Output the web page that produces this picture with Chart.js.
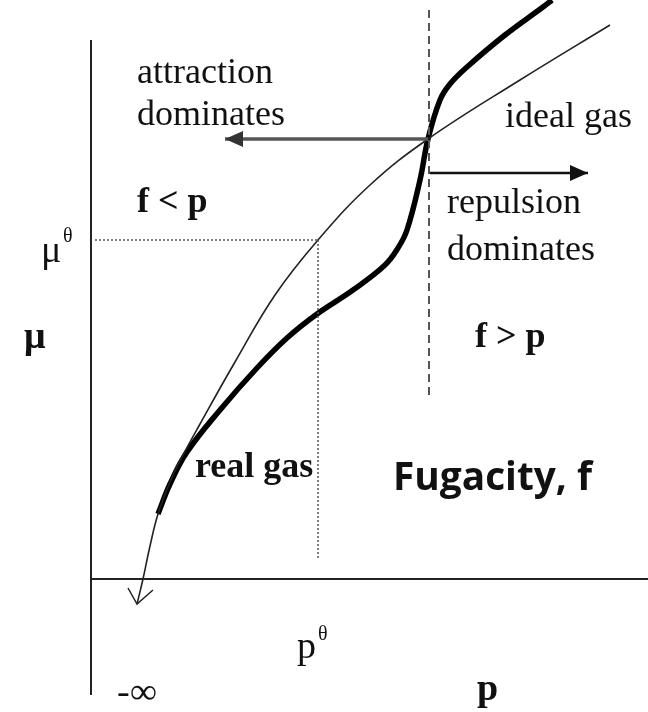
<!DOCTYPE html>
<html>
<head>
<meta charset="utf-8">
<script src="https://cdn.jsdelivr.net/npm/chart.js@4"></script>
<style>
html, body { margin: 0; padding: 0; background: #fff; }
#wrap { width: 648px; height: 712px; position: relative; }
</style>
</head>
<body>
<div id="wrap"><canvas id="fugacityChart"></canvas></div>
<script>
// Curves: x = pressure p, y = chemical potential mu (arbitrary units)
const idealP  = [0.46, 0.52, 0.59, 0.67, 0.79, 0.91, 1.09, 1.44, 1.84, 2.27, 2.79, 3.37, 4.29, 5.19];
const idealMu = [-0.25, 0.00, 0.33, 0.65, 0.97, 1.22, 1.55, 2.17, 2.84, 3.39, 3.94, 4.40, 4.99, 5.54];
const realP   = [0.67, 0.79, 0.96, 1.29, 1.66, 1.96, 2.26, 2.62, 2.94, 3.07, 3.16, 3.29, 3.37, 3.49, 3.59, 3.76, 4.14, 4.52, 4.61];
const realMu  = [0.65, 0.95, 1.27, 1.69, 2.11, 2.41, 2.65, 2.89, 3.14, 3.31, 3.49, 3.99, 4.40, 4.79, 4.95, 5.12, 5.44, 5.72, 5.79];

// reference values
const pStd = 2.27;      // p theta
const muStd = 3.39;     // mu theta
const pCross = 3.37;    // where real and ideal cross
const muCross = 4.40;

// axes and guide lines
const muAxis = [{x: 0, y: 5.39}, {x: 0, y: -1.16}];
const pAxis = [{x: 0, y: 0}, {x: 5.57, y: 0}];
const crossLine = [{x: 3.38, y: 5.69}, {x: 3.38, y: 1.84}];
const muStdLine = [{x: 0.04, y: muStd}, {x: pStd, y: muStd}];
const pStdLine = [{x: pStd, y: muStd}, {x: pStd, y: 0.19}];
const leftArrow = [{x: pCross, y: muCross}, {x: 1.34, y: muCross}];
const rightArrow = [{x: 3.39, y: 4.06}, {x: 4.97, y: 4.06}];
const infArrowHead = [{x: 0.37, y: -0.09}, {x: 0.46, y: -0.25}, {x: 0.62, y: -0.11}];

const toPts = (xs, ys) => xs.map((x, i) => ({x: x, y: ys[i]}));

const serif = '"Liberation Serif", "DejaVu Serif", serif';
const notes = [
    {t: 'attraction', x: 0.46, y: 4.96, font: '36px ' + serif},
    {t: 'dominates', x: 0.46, y: 4.54, font: '36px ' + serif},
    {t: 'f < p', x: 0.46, y: 3.67, font: 'bold 36px ' + serif},
    {t: 'ideal gas', x: 4.14, y: 4.52, font: '36px ' + serif},
    {t: 'repulsion', x: 3.56, y: 3.66, font: '36px ' + serif},
    {t: 'dominates', x: 3.56, y: 3.19, font: '36px ' + serif},
    {t: 'f > p', x: 3.84, y: 2.32, font: 'bold 36px ' + serif},
    {t: 'real gas', x: 1.04, y: 1.02, font: 'bold 36px ' + serif},
    {t: 'Fugacity, f', x: 3.02, y: 0.89, font: 'bold 40px "Open Sans", "Noto Sans", sans-serif', w: 199},
    {t: 'μ', x: -0.50, y: 3.17, font: '38px ' + serif},
    {t: 'θ', x: -0.28, y: 3.37, font: '20px ' + serif},
    {t: 'μ', x: -0.67, y: 2.31, font: 'bold 38px ' + serif},
    {t: 'p', x: 2.06, y: -0.79, font: '38px ' + serif},
    {t: 'θ', x: 2.27, y: -0.61, font: '20px ' + serif},
    {t: '-∞', x: 0.26, y: -1.24, font: '36px ' + serif, w: 40},
    {t: 'p', x: 3.86, y: -1.21, font: 'bold 38px ' + serif}
];

function arrowHead(ctx, tx, ty, dx, len, half, color) {
    ctx.beginPath();
    ctx.moveTo(tx, ty);
    ctx.lineTo(tx - dx * len, ty - half);
    ctx.lineTo(tx - dx * len, ty + half);
    ctx.closePath();
    ctx.fillStyle = color;
    ctx.fill();
}

const overlay = {
    id: 'overlay',
    afterDatasetsDraw(chart) {
        const ctx = chart.ctx;
        const xs = chart.scales.x, ys = chart.scales.y;
        ctx.save();
        // arrow heads
        arrowHead(ctx, xs.getPixelForValue(leftArrow[1].x), ys.getPixelForValue(leftArrow[1].y), -1, 18, 8, '#333');
        arrowHead(ctx, xs.getPixelForValue(rightArrow[1].x), ys.getPixelForValue(rightArrow[1].y), 1, 18, 8, '#111');
        // labels
        ctx.fillStyle = '#111';
        ctx.textBaseline = 'alphabetic';
        ctx.textAlign = 'left';
        notes.forEach(n => {
            ctx.font = n.font;
            const px = xs.getPixelForValue(n.x), py = ys.getPixelForValue(n.y);
            if (n.w) {
                const m = ctx.measureText(n.t).width;
                ctx.save();
                ctx.translate(px, py);
                ctx.scale(n.w / m, 1);
                ctx.fillText(n.t, 0, 0);
                ctx.restore();
            } else {
                ctx.fillText(n.t, px, py);
            }
        });
        ctx.restore();
    }
};

const lineSet = (data, color, width, dash) => ({
    data: data,
    borderColor: color,
    borderWidth: width,
    borderDash: dash || [],
    showLine: true,
    pointRadius: 0,
    fill: false,
    clip: false
});

const ctx = document.getElementById('fugacityChart').getContext('2d');

new Chart(ctx, {
    type: 'scatter',
    data: {
        datasets: [
            lineSet(muAxis, '#222', 2),
            lineSet(pAxis, '#222', 2),
            lineSet(crossLine, '#555', 2, [8, 5]),
            lineSet(muStdLine, '#555', 1.5, [2, 2]),
            lineSet(pStdLine, '#555', 1.5, [2, 2]),
            lineSet(leftArrow, '#555', 3.5),
            lineSet(rightArrow, '#111', 2.5),
            lineSet(infArrowHead, '#222', 1.5),
            Object.assign(lineSet(toPts(idealP, idealMu), '#222', 1.6), {tension: 0.4}),
            Object.assign(lineSet(toPts(realP, realMu), '#000', 5.5), {tension: 0.4})
        ]
    },
    options: {
        responsive: true,
        maintainAspectRatio: false,
        animation: false,
        layout: { padding: 0 },
        plugins: {
            legend: { display: false },
            tooltip: { enabled: false }
        },
        scales: {
            x: { type: 'linear', display: false, min: -0.91, max: 5.57 },
            y: { type: 'linear', display: false, min: -1.33, max: 5.79 }
        }
    },
    plugins: [overlay]
});
</script>
</body>
</html>
